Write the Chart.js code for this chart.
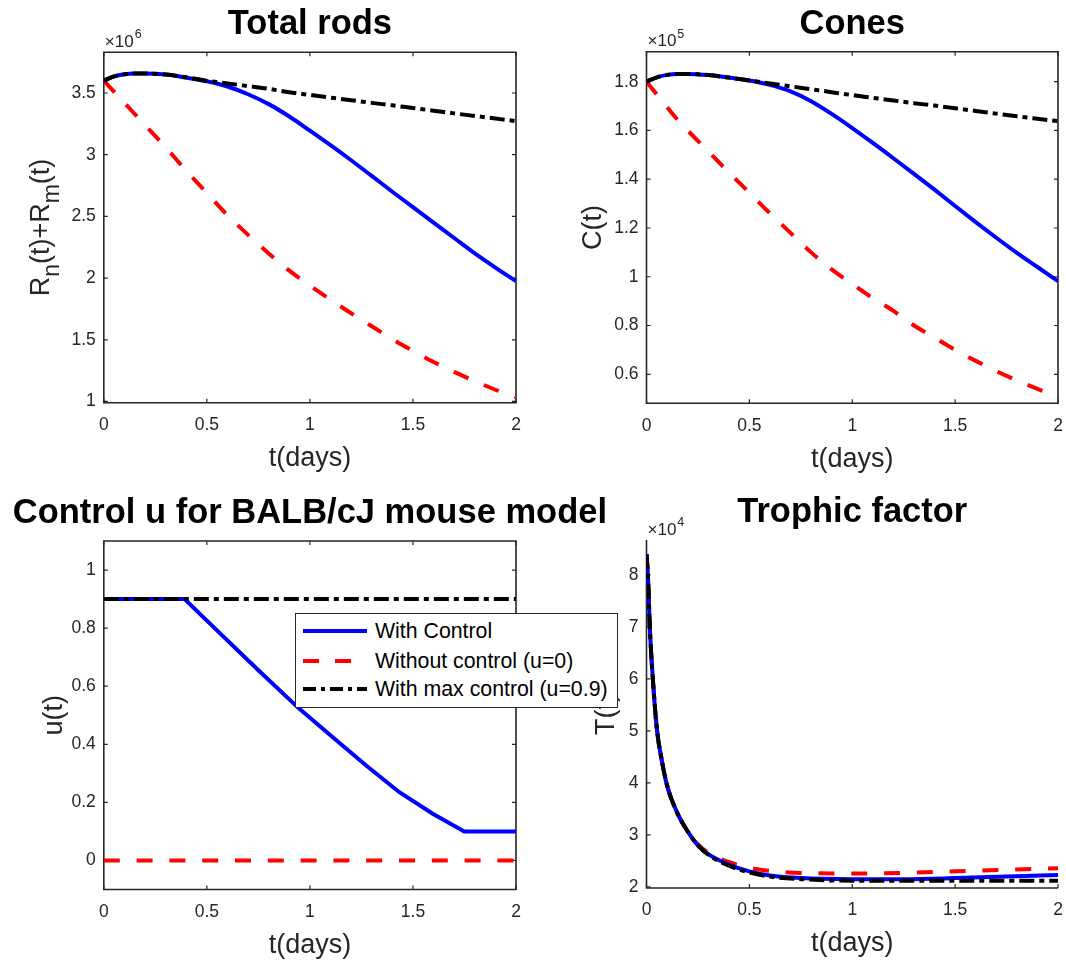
<!DOCTYPE html>
<html lang="en">
<head>
<meta charset="UTF-8">
<title>Rods, cones, control and trophic factor</title>
<script src="https://cdn.jsdelivr.net/npm/chart.js"></script>
<style>
    body { margin: 0; background: #fff; font-family: "Liberation Sans", Arial, sans-serif; }
    .page { position: relative; width: 1066px; height: 962px; overflow: hidden; background: #fff; }
    .page canvas { position: absolute; left: 0; top: 0; }
    .legend {
        position: absolute; left: 295px; top: 613px; width: 323px; height: 95px;
        box-sizing: border-box; border: 1px solid #262626; background: #fff; z-index: 5;
    }
    .legend .row { position: absolute; left: 0; width: 100%; height: 24px; line-height: 24px; font-size: 21.3px; color: #000; white-space: nowrap; }
    .legend svg { position: absolute; left: 7px; top: 7px; }
    .legend span { position: absolute; left: 79px; top: 0; }
</style>
</head>
<body>
<div class="page">
    <canvas id="rods" width="1100" height="962"></canvas>
    <canvas id="cones" width="1100" height="962"></canvas>
    <canvas id="control" width="1100" height="962"></canvas>
    <canvas id="trophic" width="1100" height="962"></canvas>
    <div class="legend">
        <div class="row" style="top:4.5px">
            <svg width="64" height="10"><line x1="0" y1="5" x2="64" y2="5" stroke="#0000ff" stroke-width="4"/></svg>
            <span>With Control</span>
        </div>
        <div class="row" style="top:34.5px">
            <svg width="64" height="10"><line x1="0" y1="5" x2="64" y2="5" stroke="#ff0000" stroke-width="4" stroke-dasharray="16 16"/></svg>
            <span>Without control (u=0)</span>
        </div>
        <div class="row" style="top:63px">
            <svg width="64" height="10"><line x1="0" y1="5" x2="64" y2="5" stroke="#000" stroke-width="4" stroke-dasharray="13 5 4 5"/></svg>
            <span>With max control (u=0.9)</span>
        </div>
    </div>
</div>
<script>
// time in days, top row
const tTop = [0, 0.05, 0.1, 0.15, 0.2, 0.3, 0.4, 0.5, 0.6, 0.7, 0.8, 0.9, 1.0, 1.1, 1.2, 1.3, 1.4, 1.5, 1.6, 1.7, 1.8, 1.9, 2.0];

// total rods (x 10^6)
const rodsControl = [3.60, 3.635, 3.652, 3.658, 3.658, 3.65, 3.625, 3.595, 3.553, 3.49, 3.41, 3.31, 3.195, 3.077, 2.955, 2.828, 2.70, 2.575, 2.45, 2.325, 2.20, 2.085, 1.975];
const rodsNone    = [3.60, 3.51, 3.42, 3.33, 3.24, 3.06, 2.87, 2.69, 2.51, 2.35, 2.20, 2.06, 1.94, 1.825, 1.715, 1.61, 1.505, 1.41, 1.32, 1.24, 1.165, 1.095, 1.035];
const rodsMax     = [3.60, 3.635, 3.652, 3.658, 3.658, 3.65, 3.628, 3.60, 3.578, 3.556, 3.534, 3.506, 3.485, 3.463, 3.442, 3.42, 3.40, 3.378, 3.357, 3.335, 3.314, 3.293, 3.272];

// cones (x 10^5)
const conesControl = [1.80, 1.818, 1.828, 1.832, 1.832, 1.827, 1.817, 1.805, 1.787, 1.76, 1.72, 1.668, 1.61, 1.549, 1.486, 1.422, 1.357, 1.29, 1.224, 1.16, 1.098, 1.04, 0.982];
const conesNone    = [1.80, 1.748, 1.696, 1.645, 1.60, 1.515, 1.428, 1.345, 1.26, 1.18, 1.10, 1.03, 0.97, 0.912, 0.86, 0.80, 0.75, 0.70, 0.655, 0.613, 0.575, 0.54, 0.51];
const conesMax     = [1.80, 1.818, 1.828, 1.832, 1.832, 1.827, 1.817, 1.805, 1.793, 1.781, 1.769, 1.757, 1.745, 1.734, 1.723, 1.712, 1.702, 1.691, 1.68, 1.669, 1.658, 1.648, 1.638];

// control u(t)
const tCtrl    = [0, 0.392, 0.5, 0.75, 0.949, 1.111, 1.273, 1.434, 1.596, 1.749, 2.0];
const uControl = [0.9, 0.9, 0.826, 0.655, 0.522, 0.424, 0.327, 0.235, 0.161, 0.1, 0.1];
const tFlat    = [0, 2.0];
const uNone    = [0, 0];
const uMax     = [0.9, 0.9];

// trophic factor (x 10^4)
const tTroph       = [0, 0.008, 0.016, 0.03, 0.05, 0.075, 0.1, 0.15, 0.2, 0.25, 0.3, 0.4, 0.5, 0.6, 0.75, 1.0, 1.25, 1.5, 1.75, 2.0];
const trophControl = [8.4, 7.9, 7.0, 6.05, 5.05, 4.42, 3.95, 3.42, 3.07, 2.8, 2.63, 2.43, 2.3, 2.22, 2.17, 2.15, 2.15, 2.17, 2.2, 2.23];
const trophNone    = [8.4, 7.9, 7.0, 6.05, 5.05, 4.42, 3.95, 3.42, 3.07, 2.82, 2.66, 2.48, 2.37, 2.31, 2.27, 2.26, 2.27, 2.3, 2.33, 2.36];
const trophMax     = [8.4, 7.9, 7.0, 6.05, 5.05, 4.42, 3.95, 3.42, 3.07, 2.8, 2.62, 2.41, 2.28, 2.2, 2.15, 2.12, 2.12, 2.12, 2.12, 2.12];

// tick labels
const xTicks      = [0, 0.5, 1, 1.5, 2];
const rodsTicks   = [1, 1.5, 2, 2.5, 3, 3.5];
const conesTicks  = [0.6, 0.8, 1, 1.2, 1.4, 1.6, 1.8];
const uTicks      = [0, 0.2, 0.4, 0.6, 0.8, 1];
const trophTicks  = [2, 3, 4, 5, 6, 7, 8];

const AXIS = '#262626';
const FONT = '"Liberation Sans", Arial, sans-serif';
const CANVAS_W = 1100, CANVAS_H = 962;
Chart.defaults.font.family = FONT;

function line(t, v, kind, smooth) {
    // red drawn lowest, black on top
    const style = {
        control: { borderColor: '#0000ff', borderDash: [], order: 2 },
        none:    { borderColor: '#ff0000', borderDash: [16, 16.8], order: 3 },
        max:     { borderColor: '#000000', borderDash: [15, 5, 5, 5], order: 1 }
    }[kind];
    return Object.assign({
        data: t.map((x, i) => ({ x: x, y: v[i] })),
        borderWidth: 4,
        pointRadius: 0,
        fill: false,
        cubicInterpolationMode: smooth ? 'monotone' : 'default',
        tension: 0
    }, style);
}

// axes box, inward ticks, titles and exponent labels
const decor = {
    id: 'decor',
    beforeDatasetsDraw(chart, args, opts) {
        const { ctx, chartArea: a, scales: { x, y } } = chart;
        ctx.save();
        ctx.strokeStyle = AXIS;
        ctx.lineWidth = 1.6;
        ctx.beginPath();
        if (opts.box) {
            ctx.rect(a.left, a.top, a.right - a.left, a.bottom - a.top);
        } else {
            ctx.moveTo(a.left, a.top);
            ctx.lineTo(a.left, a.bottom);
            ctx.lineTo(a.right, a.bottom);
        }
        ctx.stroke();
        ctx.lineWidth = 1.2;
        ctx.beginPath();
        x.ticks.forEach(t => {
            const px = x.getPixelForValue(t.value);
            ctx.moveTo(px, a.bottom); ctx.lineTo(px, a.bottom - 4);
            if (opts.box) { ctx.moveTo(px, a.top); ctx.lineTo(px, a.top + 4); }
        });
        y.ticks.forEach(t => {
            const py = y.getPixelForValue(t.value);
            ctx.moveTo(a.left, py); ctx.lineTo(a.left + 4, py);
            if (opts.box) { ctx.moveTo(a.right, py); ctx.lineTo(a.right - 4, py); }
        });
        ctx.stroke();
        ctx.restore();
    },
    afterDraw(chart, args, opts) {
        const { ctx, chartArea: a } = chart;
        ctx.save();
        ctx.fillStyle = '#000';
        ctx.font = 'bold 34.5px ' + FONT;
        ctx.textAlign = 'center';
        ctx.textBaseline = 'middle';
        ctx.fillText(opts.title, (a.left + a.right) / 2, a.top - 27.5);

        if (opts.exp) {
            ctx.fillStyle = AXIS;
            ctx.textAlign = 'left';
            ctx.textBaseline = 'alphabetic';
            ctx.font = '17px ' + FONT;
            const base = '\u00d710';
            ctx.fillText(base, a.left + 1, a.top - 5.5);
            const w = ctx.measureText(base).width;
            ctx.font = '12.5px ' + FONT;
            ctx.fillText(opts.exp, a.left + 1 + w + 1, a.top - 14);
        }

        // y label with subscripts
        if (opts.yRich) {
            const cy = (a.top + a.bottom) / 2;
            const parts = opts.yRich.map(p => {
                ctx.font = (p.sub ? '23px ' : '27px ') + FONT;
                return Object.assign({ w: ctx.measureText(p.text).width }, p);
            });
            const total = parts.reduce((s, p) => s + p.w, 0);
            ctx.translate(opts.yRichX, cy);
            ctx.rotate(-Math.PI / 2);
            ctx.fillStyle = AXIS;
            ctx.textAlign = 'left';
            ctx.textBaseline = 'alphabetic';
            let pos = -total / 2;
            parts.forEach(p => {
                ctx.font = (p.sub ? '23px ' : '27px ') + FONT;
                ctx.fillText(p.text, pos, p.sub ? 10 : 0);
                pos += p.w;
            });
        }
        ctx.restore();
    }
};

function panel(id, cfg) {
    const a = cfg.area;
    const yW = cfg.yW, xH = 70;
    return new Chart(document.getElementById(id), {
        type: 'line',
        data: { datasets: cfg.datasets },
        options: {
            responsive: false,
            animation: false,
            events: [],
            layout: { padding: { left: a.l - yW, top: a.t, right: CANVAS_W - a.r, bottom: CANVAS_H - a.b - xH } },
            plugins: {
                legend: { display: false },
                tooltip: { enabled: false },
                decor: { title: cfg.title, exp: cfg.exp, box: cfg.box, yRich: cfg.yRich, yRichX: cfg.yRichX }
            },
            scales: {
                x: {
                    type: 'linear', min: 0, max: 2,
                    grid: { display: false, drawTicks: false, tickLength: 0 },
                    border: { display: false },
                    ticks: { padding: 12, color: AXIS, font: { size: 17.5 }, maxRotation: 0, autoSkip: false, callback: v => String(v) },
                    afterBuildTicks: s => { s.ticks = xTicks.map(v => ({ value: v })); },
                    afterFit: s => { s.height = xH; },
                    title: { display: true, text: 't(days)', color: AXIS, font: { size: 27, lineHeight: 1 }, padding: { top: 0, bottom: 0.5 } }
                },
                y: {
                    type: 'linear', min: cfg.yMin, max: cfg.yMax,
                    grid: { display: false, drawTicks: false, tickLength: 0 },
                    border: { display: false },
                    ticks: { padding: 8, color: AXIS, font: { size: 17.5 }, autoSkip: false, callback: v => String(v) },
                    afterBuildTicks: s => { s.ticks = cfg.yTicks.map(v => ({ value: v })); },
                    afterFit: s => { s.width = yW; },
                    title: {
                        display: !!cfg.yTitle, text: cfg.yTitle || '', color: AXIS,
                        font: { size: 27, lineHeight: 1 }, padding: { top: cfg.yTitlePad || 0, bottom: 0 }
                    }
                }
            }
        },
        plugins: [decor]
    });
}

panel('rods', {
    area: { l: 103.8, t: 52.3, r: 516, b: 402.7 }, yW: 103.8,
    yMin: 0.99, yMax: 3.83, yTicks: rodsTicks,
    title: 'Total rods', exp: '6', box: true,
    yRich: [{ text: 'R' }, { text: 'n', sub: true }, { text: '(t)+R' }, { text: 'm', sub: true }, { text: '(t)' }],
    yRichX: 49,
    datasets: [line(tTop, rodsControl, 'control', true), line(tTop, rodsNone, 'none', true), line(tTop, rodsMax, 'max', true)]
});

panel('cones', {
    area: { l: 646.5, t: 51.7, r: 1058, b: 403.3 }, yW: 100,
    yMin: 0.481, yMax: 1.923, yTicks: conesTicks,
    title: 'Cones', exp: '5', box: true,
    yTitle: 'C(t)', yTitlePad: 33.7,
    datasets: [line(tTop, conesControl, 'control', true), line(tTop, conesNone, 'none', true), line(tTop, conesMax, 'max', true)]
});

panel('control', {
    area: { l: 103.8, t: 541, r: 516, b: 889.5 }, yW: 103.8,
    yMin: -0.1, yMax: 1.1, yTicks: uTicks,
    title: 'Control u for BALB/cJ mouse model', box: true,
    yTitle: 'u(t)', yTitlePad: 40.7,
    datasets: [line(tCtrl, uControl, 'control', false), line(tFlat, uNone, 'none', false), line(tFlat, uMax, 'max', false)]
});

panel('trophic', {
    area: { l: 646.5, t: 540, r: 1058, b: 888 }, yW: 100,
    yMin: 1.98, yMax: 8.67, yTicks: trophTicks,
    title: 'Trophic factor', exp: '4', box: false,
    yTitle: 'T(t)', yTitlePad: 47,
    datasets: [line(tTroph, trophControl, 'control', true), line(tTroph, trophNone, 'none', true), line(tTroph, trophMax, 'max', true)]
});
</script>
</body>
</html>
